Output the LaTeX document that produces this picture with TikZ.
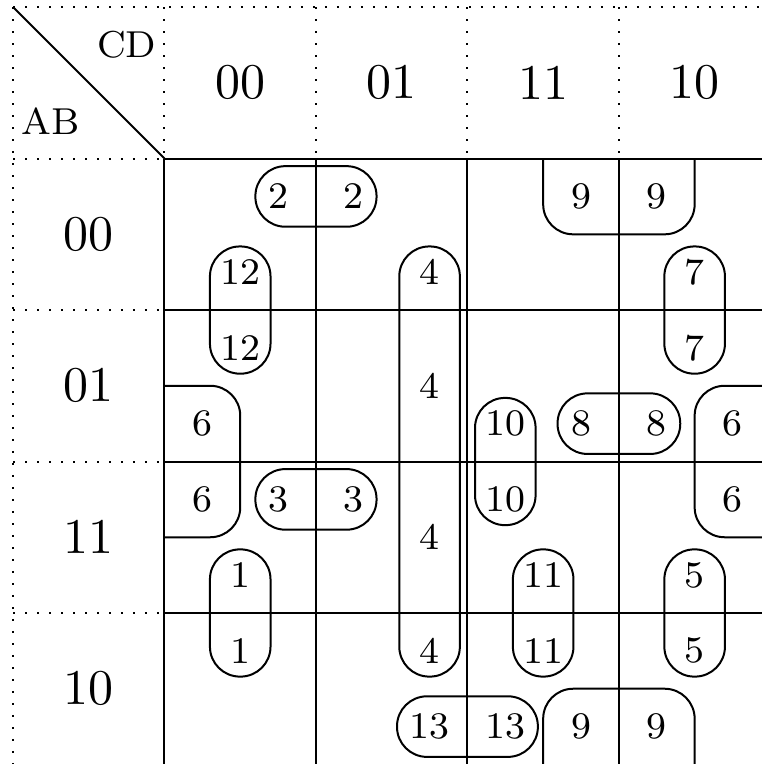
\documentclass[tikz,border=0pt]{standalone}
\usepackage{tikz}

\begin{document}
\begin{tikzpicture}[x=1.065cm,y=-1.065cm,
    val/.style={font=\fontsize{7.5}{9}\selectfont},
    loop/.style={rounded corners=6pt}]
  \useasboundingbox (-0.086,-0.047) rectangle (4.944,4.997);
  % frame of the map
  \draw[dotted] (0,0) -- (5,0);
  \draw[dotted] (0,0) -- (0,5);
  \foreach \i in {1,...,4} {
    \draw[dotted] (\i,0) -- (\i,1);
    \draw[dotted] (0,\i) -- (1,\i);
    \draw (\i,1) -- (\i,5);
    \draw (1,\i) -- (5,\i);
  }
  \coordinate (corner) at (0,0);
  \coordinate (body) at (1,1);
  \draw (corner) -- (body);
  \node[val] (cd) at (0.75,0.25) {CD};
  \node[val] (ab) at (0.25,0.75) {AB};
  \foreach \t [count=\k] in {00,01,11,10} {
    \node (col\t) at (\k+0.5,0.5) {\t};
    \node (row\t) at (0.5,\k+0.5) {\t};
  }
  % cell values
  \node[val] (twoa) at (1.75,1.25) {2};
  \node[val] (twob) at (2.25,1.25) {2};
  \node[val] (ninea) at (3.75,1.25) {9};
  \node[val] (nineb) at (4.25,1.25) {9};
  \node[val] (ninec) at (3.75,4.75) {9};
  \node[val] (nined) at (4.25,4.75) {9};
  \node[val] (twelvea) at (1.5,1.75) {12};
  \node[val] (twelveb) at (1.5,2.25) {12};
  \node[val] (foura) at (2.75,1.75) {4};
  \node[val] (fourb) at (2.75,2.5) {4};
  \node[val] (fourc) at (2.75,3.5) {4};
  \node[val] (fourd) at (2.75,4.25) {4};
  \node[val] (sevena) at (4.5,1.75) {7};
  \node[val] (sevenb) at (4.5,2.25) {7};
  \node[val] (sixa) at (1.25,2.75) {6};
  \node[val] (sixb) at (1.25,3.25) {6};
  \node[val] (sixc) at (4.75,2.75) {6};
  \node[val] (sixd) at (4.75,3.25) {6};
  \node[val] (tena) at (3.25,2.75) {10};
  \node[val] (tenb) at (3.25,3.25) {10};
  \node[val] (eighta) at (3.75,2.75) {8};
  \node[val] (eightb) at (4.25,2.75) {8};
  \node[val] (threea) at (1.75,3.25) {3};
  \node[val] (threeb) at (2.25,3.25) {3};
  \node[val] (onea) at (1.5,3.75) {1};
  \node[val] (oneb) at (1.5,4.25) {1};
  \node[val] (elevena) at (3.5,3.75) {11};
  \node[val] (elevenb) at (3.5,4.25) {11};
  \node[val] (fivea) at (4.5,3.75) {5};
  \node[val] (fiveb) at (4.5,4.25) {5};
  \node[val] (thirteena) at (2.75,4.75) {13};
  \node[val] (thirteenb) at (3.25,4.75) {13};
  % implicants
  \draw[loop] (1.6,1.05) rectangle (2.4,1.45);
  \draw[loop] (1.6,3.05) rectangle (2.4,3.45);
  \draw[loop] (3.595,2.55) rectangle (4.405,2.95);
  \draw[loop] (2.535,4.55) rectangle (3.465,4.95);
  \draw[loop] (1.3,1.58) rectangle (1.7,2.42);
  \draw[loop] (4.3,1.58) rectangle (4.7,2.42);
  \draw[loop] (3.05,2.58) rectangle (3.45,3.42);
  \draw[loop] (1.3,3.58) rectangle (1.7,4.42);
  \draw[loop] (3.3,3.58) rectangle (3.7,4.42);
  \draw[loop] (4.3,3.58) rectangle (4.7,4.42);
  \draw[loop] (2.55,1.58) rectangle (2.95,4.42);
  \draw[loop] (3.5,1) -- (3.5,1.5) -- (4.5,1.5) -- (4.5,1);
  \draw[loop] (3.5,5) -- (3.5,4.5) -- (4.5,4.5) -- (4.5,5);
  \draw[loop] (1,2.5) -- (1.5,2.5) -- (1.5,3.5) -- (1,3.5);
  \draw[loop] (5,2.5) -- (4.5,2.5) -- (4.5,3.5) -- (5,3.5);
\end{tikzpicture}
\end{document}
